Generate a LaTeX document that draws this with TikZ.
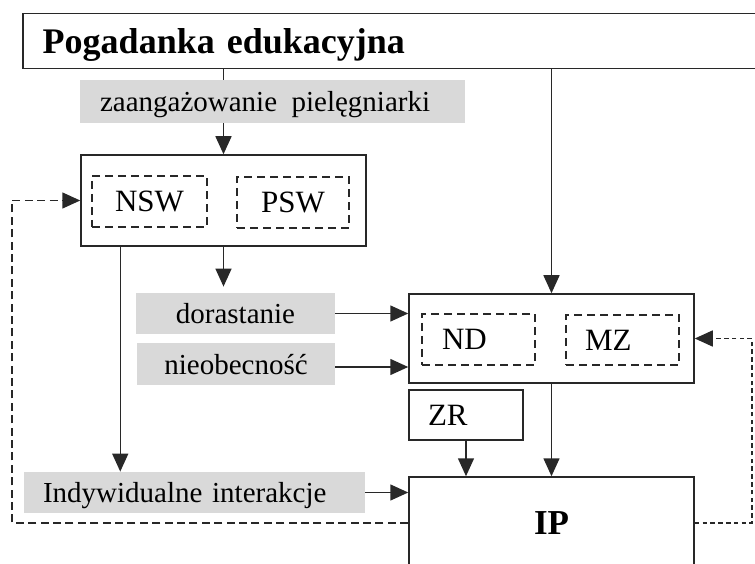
\documentclass[tikz,border=0pt]{standalone}
\usepackage{fontspec}
\setmainfont{Liberation Serif}
\usepackage{tikz}
\usetikzlibrary{arrows.meta, positioning, calc}
\definecolor{linegray}{RGB}{40,40,40}
\definecolor{boxfill}{RGB}{217,217,217}

\tikzset{
    line/.style={draw=linegray, line width=0.75pt},
    arr/.style={line, -{Triangle[length=9pt,width=8pt]}},
    box/.style={line, inner sep=0pt},
    graybox/.style={fill=boxfill, inner sep=0pt, font=\fontsize{14.5}{16}\selectfont, text height=10pt, text depth=0pt},
    innerbox/.style={draw=linegray, line width=0.7pt, dash pattern=on 4pt off 2.5pt, inner sep=0pt,
        font=\fontsize{15.5}{17}\selectfont, text height=10.3pt, text depth=0pt, minimum height=25.5pt},
    loopL/.style={arr, dash pattern=on 4pt off 2.2pt},
    loopR/.style={arr, dash pattern=on 2.3pt off 1.6pt},
}

\begin{document}
\begin{tikzpicture}[x=0.5pt, y=0.5pt]
    \useasboundingbox (0,0) rectangle (755,563);

    % Title bar
    \node[box, anchor=north west, minimum height=27.5pt, inner xsep=10pt, text width=364pt, align=left,
          font=\bfseries\fontsize{18}{20}\selectfont, text height=12pt, text depth=0pt]
          (title) at (22,550) {Pogadanka edukacyjna};

    % Upper part
    \node[graybox, minimum height=21.5pt, inner xsep=10pt, text width=172.5pt, align=left]
          (zaang) at (272.5,461.5) {zaangażowanie\, pielęgniarki};
    \node[box, minimum width=142.5pt, minimum height=45.5pt] (box1) at (223.5,362.5) {};
    \node[innerbox, minimum width=57.5pt] (nsw) at (149.5,361.5) {NSW};
    \node[innerbox, minimum width=56pt] (psw) at (293,360.5) {PSW};

    % Middle part
    \node[graybox, minimum width=99.5pt, minimum height=20.5pt] (dor) at (235.5,249.5) {dorastanie};
    \node[graybox, minimum width=99pt, minimum height=21pt] (nieob) at (236,199) {nieobecność};
    \node[box, minimum width=142.5pt, minimum height=44.5pt] (box2) at (551.5,224.5) {};
    \node[innerbox, inner xsep=10pt, text width=36.5pt, align=left] (nd) at (478.5,223.5) {ND};
    \node[innerbox, inner xsep=9.5pt, text width=37.5pt, align=left, minimum height=25pt] (mz) at (622.5,223) {MZ};
    \node[box, inner xsep=9.5pt, text width=38pt, align=left, minimum height=25pt,
          font=\fontsize{15.5}{17}\selectfont, text height=10.3pt, text depth=0pt] (zr) at (466,148) {ZR};

    % Lower part
    \node[graybox, minimum height=20.5pt, inner xsep=9.5pt, text width=151.5pt, align=left]
          (indyw) at (194.5,70.5) {Indywidualne interakcje};
    \node[box, minimum width=142.5pt, minimum height=46pt,
          font=\bfseries\fontsize{17.5}{19}\selectfont, text height=11.6pt, text depth=0pt] (ip) at (551.5,40) {IP};

    \coordinate (b1out) at ([xshift=20pt]box1.south west);
    \coordinate (lloop) at (12,0);
    \coordinate (rloop) at (752,0);

    % Connectors
    \draw[line] (box1.north |- title.south) -- (box1.north |- zaang.north);
    \draw[arr] (box1.north |- zaang.south) -- (box1.north);
    \draw[arr] (box2.north |- title.south) -- (box2.north);
    \draw[arr, shorten >=3pt] (box1.south) -- (box1.south |- dor.north);
    \draw[arr] (b1out) -- (b1out |- indyw.north);
    \draw[arr] (dor.east) -- (dor.east -| box2.west);
    \draw[arr] ([yshift=-1.5pt]nieob.east) -- ([yshift=-1.5pt]nieob.east -| box2.west);
    \draw[arr] (box2.south) -- (ip.north);
    \draw[arr] (zr.south) -- (zr.south |- ip.north);
    \draw[arr] (indyw.east) -- (indyw.east -| ip.west);

    % Feedback loops
    \draw[loopL] (ip.west) -- (ip.west -| lloop) |- (box1.west);
    \draw[loopR] (ip.east) -- (ip.east -| rloop) |- (box2.east);
\end{tikzpicture}
\end{document}
